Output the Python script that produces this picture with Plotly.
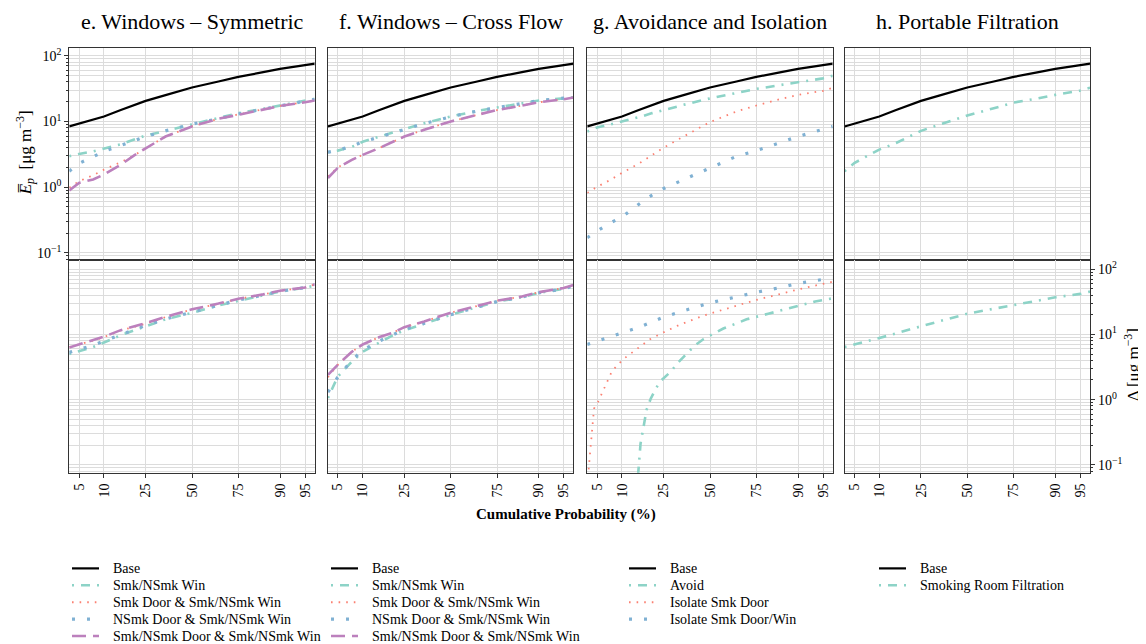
import plotly.graph_objects as go
from statistics import NormalDist

_nd = NormalDist()


def probit(pl):
    return [None if p is None else _nd.inv_cdf(p / 100.0) for p in pl]


# ---------------- data ----------------
P = [3.7, 5, 7.5, 10, 15, 20, 25, 35, 50, 65, 75, 85, 90, 95, 96.3]
X_TICKS = [5, 10, 25, 50, 75, 90, 95]
X_TICK_LABELS = ["5", "10", "25", "50", "75", "90", "95"]

BASE = [8.4, 9.27, 10.7, 11.9, 14.9, 17.7, 20.6, 25.2, 32.9, 40.6, 47.7, 56.3, 63.0, 71.9, 75.9]

# e. Windows - Symmetric
E_WIN = [2.95, 3.2, 3.5, 3.9, 4.5, 5.3, 6.1, 7.2, 9.1, 11.2, 13.4, 15.6, 17.5, 20.6, 22.1]
E_SDOOR = [0.98, 1.23, 1.52, 1.85, 2.4, 3.05, 3.9, 5.9, 8.4, 11.0, 12.8, 15.4, 17.3, 19.8, 20.8]
E_NDOOR = [1.75, 2.3, 2.9, 3.5, 4.3, 5.1, 5.9, 7.2, 9.1, 11.0, 13.0, 15.4, 17.3, 20.4, 21.8]
E_BOTH = [0.89, 1.16, 1.31, 1.56, 2.2, 3.05, 3.9, 5.9, 8.4, 11.0, 12.6, 15.2, 17.2, 19.6, 20.8]
E_WIN_D = [5.0, 5.5, 6.4, 7.5, 9.7, 11.5, 13.3, 17.0, 21.4, 27.7, 32.7, 39.3, 45.2, 52.0, 55.7]
E_SDOOR_D = [6.4, 7.0, 8.0, 9.1, 11.5, 13.0, 14.6, 18.4, 24.0, 29.4, 35.0, 40.7, 46.4, 52.0, 58.3]
E_NDOOR_D = [5.3, 5.9, 6.8, 7.9, 9.9, 11.5, 13.7, 17.2, 22.0, 28.0, 33.5, 40.0, 45.8, 52.0, 56.5]
E_BOTH_D = [6.3, 7.0, 8.0, 9.2, 11.6, 13.2, 14.8, 18.5, 24.2, 29.6, 35.2, 41.0, 46.6, 52.3, 58.5]

# f. Windows - Cross Flow
F_WIN = [3.4, 3.6, 4.1, 4.9, 5.9, 6.8, 7.6, 9.4, 11.9, 14.5, 16.3, 19.0, 20.8, 22.5, 23.4]
F_SDOOR = [1.45, 2.0, 2.6, 3.1, 3.95, 4.9, 5.9, 7.5, 10.0, 12.6, 14.9, 17.5, 19.6, 21.8, 23.1]
F_NDOOR = [3.4, 3.65, 4.2, 4.9, 5.8, 6.7, 7.6, 9.3, 11.8, 14.4, 16.2, 19.0, 20.8, 22.6, 23.4]
F_BOTH = [1.38, 1.96, 2.6, 3.1, 3.95, 4.9, 5.9, 7.5, 10.0, 12.6, 14.9, 17.5, 19.6, 21.8, 23.1]
F_WIN_D = [1.06, 2.25, 3.8, 5.4, 7.5, 9.7, 11.5, 14.6, 20.0, 26.1, 31.8, 37.0, 43.2, 49.7, 55.7]
F_SDOOR_D = [2.2, 3.4, 5.4, 7.0, 9.1, 10.6, 12.9, 15.8, 21.4, 27.0, 32.7, 37.9, 44.2, 51.4, 57.1]
F_NDOOR_D = [1.3, 2.2, 4.0, 5.7, 7.9, 9.7, 11.9, 14.8, 20.0, 26.1, 31.8, 37.2, 43.2, 49.7, 55.7]
F_BOTH_D = [2.4, 3.4, 5.4, 7.0, 9.1, 10.6, 12.9, 15.8, 21.4, 27.0, 32.7, 37.9, 44.2, 51.4, 57.1]

# g. Avoidance and Isolation
G_AVOID = [7.05, 8.1, 9.1, 10.0, 11.6, 13.4, 15.0, 17.9, 22.5, 27.5, 31.3, 36.0, 39.4, 45.3, 49.8]
G_SDOOR = [0.82, 1.01, 1.31, 1.65, 2.28, 3.05, 4.0, 5.9, 9.8, 14.2, 17.5, 22.1, 25.4, 29.2, 32.7]
G_SDW = [0.17, 0.215, 0.29, 0.35, 0.55, 0.76, 0.955, 1.31, 1.96, 2.95, 3.6, 4.9, 5.9, 7.6, 8.4]
P_G_AVOID_D = [14.5, 14.8, 15.2, 15.6, 16.4, 17.0, 17.8, 19.4, 21.6, 24.1, 28.4, 32.2, 36.4, 41.4,
               46.1, 51.0, 57.7, 63.3, 70.3, 80.2, 88.5, 93.7, 96.3]
G_AVOID_D = [0.05, 0.081, 0.134, 0.211, 0.33, 0.495, 0.70, 1.03, 1.5, 2.0, 2.68, 3.73, 4.93, 6.8,
             8.4, 9.9, 12.3, 14.1, 17.0, 20.7, 26.1, 31.8, 35.7]
P_G_SDOOR_D = [3.7, 3.83, 4.03, 4.21, 4.38, 4.57, 5.2, 6.3, 7.7, 10.4, 14.1, 19.1, 25.6, 33.1,
               46.5, 60.5, 73.9, 84.2, 91.5, 96.0, 96.3]
G_SDOOR_D = [0.05, 0.08, 0.15, 0.29, 0.52, 0.73, 0.94, 1.59, 2.75, 4.2, 5.9, 8.4, 11.0, 14.1,
             19.5, 25.5, 33.0, 41.1, 51.4, 62.7, 64.0]
G_SDW_D = [7.0, 7.9, 9.4, 10.5, 12.8, 15.4, 18.4, 23.0, 30.4, 37.5, 44.2, 52.5, 60.4, 69.5, 74.5]

# h. Portable Filtration
H_FILT = [1.75, 2.33, 3.05, 3.73, 4.7, 5.9, 7.2, 9.1, 12.3, 15.9, 19.4, 22.5, 25.4, 29.5, 32.7]
H_FILT_D = [6.4, 7.0, 7.9, 8.6, 10.3, 11.9, 13.3, 16.4, 20.7, 24.7, 28.4, 33.0, 37.0, 41.7, 45.2]

TITLES = ["e. Windows \u2013 Symmetric", "f. Windows \u2013 Cross Flow",
          "g. Avoidance and Isolation", "h. Portable Filtration"]

# ---------------- styles ----------------
FONT = "Liberation Serif"
W, H = 1146, 644
OFF = 8  # page body margin of the html page
GRID = "#dcdcdc"
FRAME = "#333333"
STY = {
    "base": dict(color="#000000", width=2.2, dash="solid"),
    "teal": dict(color="#8DD3C7", width=2.6, dash="2px,7px,9px,7px"),
    "red": dict(color="#FB8072", width=1.8, dash="1.6px,6px"),
    "blue": dict(color="#80B1D3", width=3.2, dash="3px,12px"),
    "purple": dict(color="#BC80BD", width=2.6, dash="14px,7px"),
}

# panel -> list of (legend name, style, p_top, top, p_bot, bottom)
PANELS = [
    [("Base", "base", P, BASE, None, None),
     ("Smk/NSmk Win", "teal", P, E_WIN, P, E_WIN_D),
     ("Smk Door & Smk/NSmk Win", "red", P, E_SDOOR, P, E_SDOOR_D),
     ("NSmk Door & Smk/NSmk Win", "blue", P, E_NDOOR, P, E_NDOOR_D),
     ("Smk/NSmk Door & Smk/NSmk Win", "purple", P, E_BOTH, P, E_BOTH_D)],
    [("Base", "base", P, BASE, None, None),
     ("Smk/NSmk Win", "teal", P, F_WIN, P, F_WIN_D),
     ("Smk Door & Smk/NSmk Win", "red", P, F_SDOOR, P, F_SDOOR_D),
     ("NSmk Door & Smk/NSmk Win", "blue", P, F_NDOOR, P, F_NDOOR_D),
     ("Smk/NSmk Door & Smk/NSmk Win", "purple", P, F_BOTH, P, F_BOTH_D)],
    [("Base", "base", P, BASE, None, None),
     ("Avoid", "teal", P, G_AVOID, P_G_AVOID_D, G_AVOID_D),
     ("Isolate Smk Door", "red", P, G_SDOOR, P_G_SDOOR_D, G_SDOOR_D),
     ("Isolate Smk Door/Win", "blue", P, G_SDW, P, G_SDW_D)],
    [("Base", "base", P, BASE, None, None),
     ("Smoking Room Filtration", "teal", P, H_FILT, P, H_FILT_D)],
]

# positions in page pixels
COL_PX = [(69.3, 314.7), (328.0, 573.4), (587.3, 832.7), (844.6, 1090.0)]
ROW_PX = [(46.0, 259.0), (259.0, 473.0)]
Y_RANGES = [[-1.106, 2.121], [-1.122, 2.142]]
X_RANGE = [-1.786, 1.786]
LEG_LINE_X = [72, 331, 629, 879]
LEG_ROW_Y = [569, 586, 603, 620, 637]
LEG_SAMPLE_W = 27
LEG_TEXT_GAP = 12


def fx(px):
    return (px - OFF) / W


def fy(py):
    return 1 - (py - OFF) / H


fig = go.Figure()

for c, series in enumerate(PANELS):
    for r in range(2):
        idx = r * 4 + c + 1
        xa = "x" if idx == 1 else f"x{idx}"
        ya = "y" if idx == 1 else f"y{idx}"
        for name, sty, pt, vt, pb, vb in series:
            pp, vv = (pt, vt) if r == 0 else (pb, vb)
            if vv is None:
                continue
            s = STY[sty]
            fig.add_trace(go.Scatter(
                x=probit(pp), y=vv, mode="lines", name=name,
                line=dict(color=s["color"], width=s["width"], dash=s["dash"]),
                xaxis=xa, yaxis=ya, showlegend=False, hoverinfo="skip"))

major = [0.1, 1, 10, 100]
major_txt = ["10<sup>\u22121</sup>", "10<sup>0</sup>", "10<sup>1</sup>", "10<sup>2</sup>"]
minor = [m * 10 ** k for k in range(-2, 3) for m in range(2, 10)]

layout = dict(
    width=W, height=H, autosize=False,
    margin=dict(l=0, r=0, t=0, b=0),
    paper_bgcolor="white", plot_bgcolor="white",
    font=dict(family=FONT, size=13, color="#000000"),
    showlegend=False,
)

for r in range(2):
    for c in range(4):
        idx = r * 4 + c + 1
        xk = "xaxis" if idx == 1 else f"xaxis{idx}"
        yk = "yaxis" if idx == 1 else f"yaxis{idx}"
        xa = "x" if idx == 1 else f"x{idx}"
        ya = "y" if idx == 1 else f"y{idx}"
        x0, x1 = COL_PX[c]
        y0, y1 = ROW_PX[r]
        layout[xk] = dict(
            domain=[fx(x0), fx(x1)], range=X_RANGE, anchor=ya,
            tickmode="array", tickvals=probit(X_TICKS), ticktext=X_TICK_LABELS,
            showticklabels=(r == 1), tickangle=-90,
            ticks="outside" if r == 1 else "", ticklen=4, tickcolor=FRAME,
            tickfont=dict(family=FONT, size=14),
            showgrid=True, gridcolor=GRID, gridwidth=1.2, zeroline=False,
            showline=True, mirror=True, linecolor=FRAME, linewidth=1.2,
        )
        labelled = (r == 0 and c == 0) or (r == 1 and c == 3)
        layout[yk] = dict(
            type="log", domain=[fy(y1), fy(y0)], range=Y_RANGES[r], anchor=xa,
            tickmode="array", tickvals=major, ticktext=major_txt,
            showticklabels=labelled, side="right" if (r == 1 and c == 3) else "left",
            ticks="outside" if labelled else "", ticklen=4, tickcolor=FRAME,
            tickfont=dict(family=FONT, size=14),
            showgrid=True, gridcolor=GRID, gridwidth=1.2, zeroline=False,
            showline=True, mirror=True, linecolor=FRAME, linewidth=1.2,
            minor=dict(tickvals=minor, showgrid=True, gridcolor=GRID, gridwidth=1,
                       ticks="outside" if labelled else "", ticklen=2, tickcolor=FRAME),
        )

annotations = []
shapes = []
for c in range(4):
    x0, x1 = COL_PX[c]
    annotations.append(dict(text=TITLES[c], x=fx((x0 + x1) / 2), y=fy(20),
                            xref="paper", yref="paper", showarrow=False,
                            font=dict(family=FONT, size=22), xanchor="center", yanchor="middle"))
    # legend block under each column
    for i, (name, sty, *_rest) in enumerate(PANELS[c]):
        s = STY[sty]
        yy = LEG_ROW_Y[i]
        lx = LEG_LINE_X[c]
        shapes.append(dict(type="line", xref="paper", yref="paper",
                           x0=fx(lx), x1=fx(lx + LEG_SAMPLE_W), y0=fy(yy), y1=fy(yy),
                           line=dict(color=s["color"], width=s["width"], dash=s["dash"])))
        annotations.append(dict(text=name, x=fx(lx + LEG_SAMPLE_W + LEG_TEXT_GAP), y=fy(yy),
                                xref="paper", yref="paper", showarrow=False,
                                font=dict(family=FONT, size=14),
                                xanchor="left", yanchor="middle"))

annotations.append(dict(text="<b>Cumulative Probability (%)</b>", x=fx(566), y=fy(515),
                        xref="paper", yref="paper", showarrow=False,
                        font=dict(family=FONT, size=15), xanchor="center", yanchor="middle"))
annotations.append(dict(text="<i>E\u0305</i><sub><i>p</i></sub>  [\u03bcg m<sup>\u22123</sup>]",
                        x=fx(25), y=fy(152), xref="paper", yref="paper", showarrow=False,
                        textangle=-90, font=dict(family=FONT, size=17),
                        xanchor="center", yanchor="middle"))
annotations.append(dict(text="\u0394 [\u03bcg m<sup>\u22123</sup>]",
                        x=fx(1132), y=fy(365), xref="paper", yref="paper", showarrow=False,
                        textangle=-90, font=dict(family=FONT, size=17),
                        xanchor="center", yanchor="middle"))
layout["annotations"] = annotations
layout["shapes"] = shapes

fig.update_layout(**layout)
fig.write_html("out.html")
